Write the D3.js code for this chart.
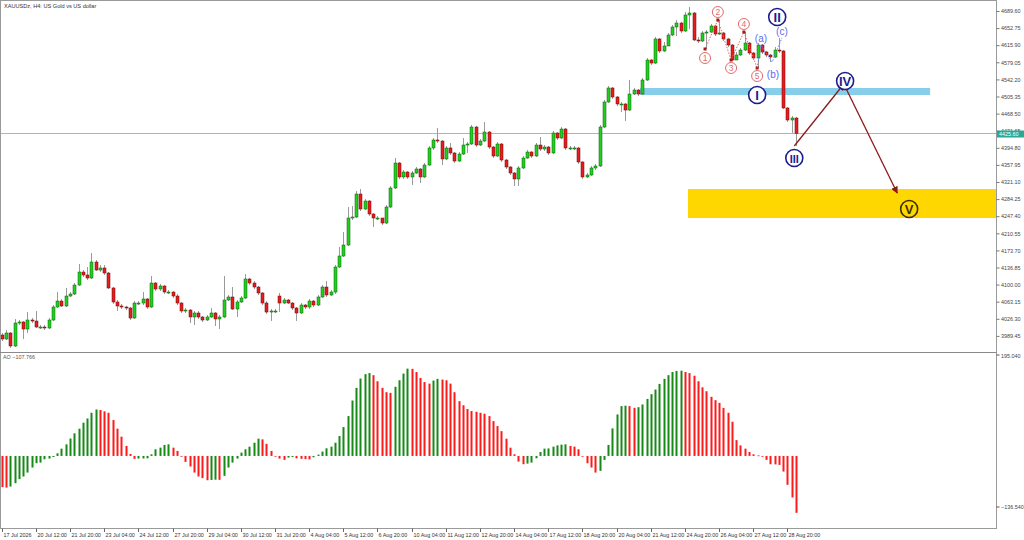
<!DOCTYPE html>
<html><head><meta charset="utf-8">
<script src="https://cdn.jsdelivr.net/npm/d3@7/dist/d3.min.js"></script>
<style>
body{margin:0;background:#fff}
svg{display:block}
text{font-family:"Liberation Sans",Arial,sans-serif}
</style>
</head><body>
<svg id="chart" width="1024" height="540"></svg>
<script>
// ---------------- DATA ----------------
const chartTitle = "XAUUSDz, H4:  US Gold vs US dollar";
const aoTitle = "AO";

const opens = [3991.4,3982.8,3995.7,3967.7,4017.2,4019.4,4004.3,4023.7,4021.5,4008.6,
4008.6,4006.5,4023.7,4051.7,4064.6,4053.9,4075.4,4079.7,4099.1,4127.1,
4120.7,4114.2,4148.7,4131.4,4135.8,4125.0,4092.7,4062.5,4053.9,4051.7,
4049.6,4028.0,4060.3,4060.3,4069.0,4051.7,4103.4,4090.5,4097.0,4084.0,
4084.0,4075.4,4060.3,4043.1,4045.2,4030.2,4038.8,4030.2,4023.7,4030.2,
4038.8,4025.9,4030.2,4066.8,4073.3,4047.4,4062.5,4071.1,4112.1,4103.4,
4094.8,4081.9,4060.3,4040.9,4043.1,4075.4,4060.3,4066.8,4060.3,4049.6,
4038.8,4056.0,4051.7,4064.6,4056.0,4073.3,4094.8,4077.6,4084.0,4137.9,
4161.6,4185.3,4243.5,4245.7,4295.2,4262.9,4280.1,4252.1,4243.5,4243.5,
4232.7,4267.2,4308.2,4362.0,4331.9,4342.6,4331.9,4340.5,4349.1,4331.9,
4357.7,4394.4,4411.6,4409.4,4370.7,4394.4,4383.6,4366.3,4381.4,4400.8,
4403.0,4439.6,4400.8,4409.4,4428.8,4396.5,4377.1,4403.0,4368.5,4353.4,
4340.5,4327.6,4351.3,4372.8,4385.7,4377.1,4400.8,4392.2,4396.5,4383.6,
4426.7,4415.9,4435.3,4394.4,4394.4,4394.4,4364.2,4331.9,4336.2,4351.3,
4355.6,4439.6,4493.5,4523.7,4504.3,4489.2,4489.2,4476.2,4510.7,4519.3,
4510.7,4540.9,4584.0,4577.5,4629.3,4603.4,4614.2,4637.9,4655.1,4663.7,
4646.5,4681.0,4685.3,4627.1,4624.9,4642.2,4644.3,4657.3,4640.0,4642.2,
4629.3,4616.3,4584.0,4594.8,4605.5,4620.6,4599.1,4588.3,4616.3,4601.2,
4594.8,4590.5,4605.5,4603.4,4480.6,4454.7,4459.0];

const closes = [3982.8,3995.7,3967.7,4017.2,4019.4,4004.3,4023.7,4021.5,4008.6,4008.6,
4006.5,4023.7,4051.7,4064.6,4053.9,4075.4,4079.7,4099.1,4127.1,4120.7,
4114.2,4148.7,4131.4,4135.8,4125.0,4092.7,4062.5,4053.9,4051.7,4049.6,
4028.0,4060.3,4060.3,4069.0,4051.7,4103.4,4090.5,4097.0,4084.0,4084.0,
4075.4,4060.3,4043.1,4045.2,4030.2,4038.8,4030.2,4023.7,4030.2,4038.8,
4025.9,4030.2,4066.8,4073.3,4047.4,4062.5,4071.1,4112.1,4103.4,4094.8,
4081.9,4060.3,4040.9,4043.1,4043.1,4060.3,4066.8,4060.3,4049.6,4038.8,
4056.0,4051.7,4064.6,4056.0,4073.3,4094.8,4077.6,4084.0,4137.9,4161.6,
4185.3,4243.5,4245.7,4295.2,4262.9,4280.1,4252.1,4243.5,4243.5,4232.7,
4267.2,4308.2,4362.0,4331.9,4342.6,4331.9,4340.5,4349.1,4331.9,4357.7,
4394.4,4411.6,4409.4,4370.7,4394.4,4383.6,4366.3,4381.4,4400.8,4403.0,
4439.6,4400.8,4409.4,4428.8,4396.5,4377.1,4403.0,4368.5,4353.4,4340.5,
4327.6,4351.3,4372.8,4385.7,4377.1,4400.8,4392.2,4396.5,4383.6,4426.7,
4415.9,4435.3,4394.4,4394.4,4394.4,4364.2,4331.9,4336.2,4351.3,4355.6,
4439.6,4493.5,4523.7,4504.3,4489.2,4489.2,4476.2,4510.7,4519.3,4510.7,
4540.9,4584.0,4577.5,4629.3,4603.4,4614.2,4637.9,4655.1,4663.7,4646.5,
4681.0,4685.3,4627.1,4624.9,4642.2,4644.3,4657.3,4640.0,4642.2,4629.3,
4616.3,4584.0,4594.8,4605.5,4620.6,4599.1,4588.3,4616.3,4601.2,4594.8,
4590.5,4605.5,4603.4,4480.6,4454.7,4459.0,4425.6];

const highs = [3995.7,4002.1,3997.8,4025.9,4023.7,4021.5,4040.9,4028.0,4043.1,4012.9,
4012.9,4028.0,4056.0,4084.0,4069.0,4092.7,4084.0,4103.4,4144.4,4131.4,
4137.9,4168.1,4153.0,4142.2,4142.2,4127.1,4094.8,4066.8,4058.2,4053.9,
4051.7,4064.6,4064.6,4084.0,4071.1,4118.5,4105.6,4101.3,4099.1,4088.3,
4086.2,4079.7,4062.5,4049.6,4047.4,4043.1,4043.1,4032.3,4034.5,4049.6,
4040.9,4034.5,4118.5,4077.6,4094.8,4066.8,4075.4,4122.8,4114.2,4107.7,
4097.0,4084.0,4064.6,4047.4,4047.4,4081.9,4071.1,4069.0,4062.5,4051.7,
4060.3,4058.2,4069.0,4066.8,4077.6,4099.1,4107.7,4088.3,4142.2,4181.0,
4213.3,4267.2,4269.4,4301.7,4306.0,4284.5,4282.3,4254.3,4247.8,4243.5,
4271.5,4312.5,4372.8,4364.2,4346.9,4344.8,4344.8,4353.4,4351.3,4362.0,
4398.7,4415.9,4437.5,4411.6,4398.7,4405.1,4385.7,4385.7,4415.9,4407.3,
4443.9,4441.8,4413.8,4450.4,4431.0,4398.7,4407.3,4405.1,4370.7,4355.6,
4342.6,4355.6,4377.1,4390.0,4387.9,4405.1,4418.1,4400.8,4398.7,4431.0,
4428.8,4439.6,4437.5,4398.7,4398.7,4396.5,4366.3,4340.5,4355.6,4359.9,
4443.9,4497.8,4528.0,4525.8,4506.4,4493.5,4491.3,4540.9,4523.7,4521.5,
4545.2,4588.3,4586.2,4633.6,4631.4,4622.8,4642.2,4659.4,4670.2,4665.9,
4687.4,4698.2,4687.4,4633.6,4646.5,4648.6,4661.6,4659.4,4670.2,4644.3,
4631.4,4618.5,4601.2,4609.9,4644.3,4622.8,4601.2,4620.6,4618.5,4603.4,
4596.9,4612.0,4631.4,4605.5,4482.7,4463.3,4461.2];

const lows = [3978.4,3980.6,3963.4,3965.5,4012.9,3982.8,3995.7,4017.2,4006.5,4004.3,
4002.1,4004.3,4021.5,4049.6,4051.7,4051.7,4073.3,4077.6,4097.0,4116.4,
4109.9,4112.1,4129.3,4127.1,4120.7,4090.5,4058.2,4043.1,4047.4,4045.2,
4023.7,4025.9,4056.0,4056.0,4047.4,4049.6,4086.2,4086.2,4079.7,4079.7,
4071.1,4056.0,4038.8,4038.8,4017.2,4012.9,4025.9,4019.4,4021.5,4028.0,
4010.8,4004.3,4028.0,4064.6,4045.2,4030.2,4060.3,4069.0,4099.1,4090.5,
4077.6,4056.0,4036.6,4021.5,4038.8,4040.9,4058.2,4058.2,4045.2,4021.5,
4036.6,4047.4,4047.4,4051.7,4053.9,4071.1,4073.3,4075.4,4079.7,4135.8,
4159.5,4183.2,4239.2,4243.5,4258.6,4260.7,4247.8,4224.1,4239.2,4228.4,
4230.6,4265.1,4306.0,4327.6,4327.6,4327.6,4314.6,4338.3,4318.9,4329.7,
4355.6,4390.0,4405.1,4357.7,4368.5,4379.3,4362.0,4364.2,4379.3,4383.6,
4400.8,4396.5,4398.7,4407.3,4392.2,4372.8,4375.0,4364.2,4349.1,4336.2,
4312.5,4312.5,4349.1,4370.7,4372.8,4375.0,4387.9,4387.9,4379.3,4381.4,
4411.6,4413.8,4390.0,4390.0,4390.0,4359.9,4327.6,4329.7,4334.0,4346.9,
4353.4,4437.5,4491.3,4500.0,4484.9,4471.9,4452.5,4474.1,4508.6,4506.4,
4508.6,4538.7,4573.2,4575.4,4599.1,4601.2,4618.5,4635.7,4635.7,4642.2,
4644.3,4650.8,4624.9,4620.6,4622.8,4607.7,4642.2,4635.7,4637.9,4624.9,
4612.0,4581.8,4588.3,4592.6,4603.4,4594.8,4584.0,4566.8,4596.9,4590.5,
4579.7,4588.3,4599.1,4478.4,4450.4,4426.7,4398.7];

const aoValues = [-59,-60,-58,-51.6,-44,-39,-31.5,-22,-13.8,-12.6,
-6.3,-5,-2,5,13.8,22,33,42.8,51.6,63,
71,81.8,88,87,84.5,81.8,68,51.6,36.5,19,
3.8,-5.5,-5,-4.8,-4.5,3.1,12.6,15.7,20.8,22,
15.7,9.4,-0.5,-11.3,-20,-31.5,-39,-42,-46,-45.5,
-45,-45.3,-37.7,-22,-12.6,-5,6.3,12.6,17.6,25,
32.7,31.4,23,9.4,-1,-5,-7.5,-3.1,-1.9,-4.5,
-5.5,-6,-6.5,-2.5,2.5,8.2,14.5,17.6,25,37.7,
54.7,75.5,105,129,146.6,155,157,153,141.5,129,
120.8,119.5,131,143.4,156,165.4,165,159,147.8,140,
137,142.8,146,144.7,143.4,137,120.8,103.8,96,89,
85,83.7,81.8,80,75.5,66,56.6,47,32.7,15.7,
3.1,-10.7,-15.7,-14.5,-12.6,-4.4,7.5,13.8,14.2,17.6,
20,21.4,22,18.9,17.6,12.6,-0.5,-13.8,-22,-31.5,
-28.3,-7.5,20.8,52.2,78.6,94.4,95.2,94.4,91.2,92.4,
97.5,108,117,125.8,136.5,146,153,159,161,161.5,
159,157,152,141.5,130,122.6,112,105.7,100.6,91,
81.8,64.8,30,20,13.8,7.5,3.1,1,-1,-7.5,
-15.7,-16,-17,-29.6,-54.7,-78.6,-107.766];

const priceTicks = [4689.60,4652.75,4615.90,4579.05,4542.20,4505.35,4468.50,4431.65,4394.80,4357.95,
4321.10,4284.25,4247.40,4210.55,4173.70,4136.85,4100.00,4063.15,4026.30,3989.45];
const priceDomain = [3989.45, 4689.60];
const aoDomain = [-136.54, 195.04];

const dateLabelBars = [0,8,16,24,32,40,48,56,64,72,80,88,96,104,112,120,128,136,144,152,160,168,176,184];
const dateLabels = ["17 Jul 2026","20 Jul 12:00","21 Jul 20:00","23 Jul 04:00","24 Jul 12:00","27 Jul 20:00",
"29 Jul 04:00","30 Jul 12:00","31 Jul 20:00","4 Aug 04:00","5 Aug 12:00","6 Aug 20:00",
"10 Aug 04:00","11 Aug 12:00","12 Aug 20:00","14 Aug 04:00","17 Aug 12:00","18 Aug 20:00",
"20 Aug 04:00","21 Aug 12:00","24 Aug 20:00","26 Aug 04:00","27 Aug 12:00","28 Aug 20:00"];

// Elliott-wave annotations (bar index, price)
const resistanceBand = {from:149.5, to:217.4, top:4523.7, bottom:4508.6};
const targetZone = {from:160.7, to:234, top:4306.0, bottom:4243.5};
const mainWaveLabels = ["I","II","III","IV","V"];
const mainWaveBars = [176.9,181.6,185.6,197.5,212.5];
const mainWavePrices = [4508.6,4676.7,4372.8,4538.7,4262.9];
const minorWaveLabels = ["1","2","3","4","5"];
const minorWaveBars = [164.7,167.7,170.8,173.8,176.9];
const minorWaveLabelPrices = [4588.3,4687.4,4566.8,4661.6,4549.5];
const minorPivotPrices = [4607.7,4670.2,4584.0,4644.3,4566.8];
const corrLabels = ["(a)","(b)","(c)"];
const corrLabelBars = [177.8,180.6,182.7];
const corrLabelPrices = [4631.4,4551.7,4646.5];
const corrPivotBars = [176.9,177.8,180.4,182.7];
const corrPivotPrices = [4566.8,4616.3,4579.7,4631.4];
const forecastBars = [185.6,197.2,209.7];
const forecastPrices = [4398.7,4532.3,4297.4];

// ---------------- DRAW ----------------
const svg = d3.select("#chart");
const plotRight = 996.5;
const mainBottom = 352.5, aoTop = 353, aoBottom = 528;

const x = d3.scaleLinear().domain([0, 186]).range([1.7, 796]);
const y = d3.scaleLinear().domain(priceDomain).range([335.9, 11]);
const yAO = d3.scaleLinear().domain(aoDomain).range([aoBottom, aoTop]);

const defs = svg.append("defs");
defs.append("clipPath").attr("id","clipMain").append("rect")
  .attr("x",0).attr("y",0).attr("width",plotRight).attr("height",mainBottom);
defs.append("clipPath").attr("id","clipAO").append("rect")
  .attr("x",0).attr("y",aoTop).attr("width",plotRight).attr("height",aoBottom-aoTop);
defs.append("marker").attr("id","arrow").attr("viewBox","0 0 10 10")
  .attr("refX",9).attr("refY",5).attr("markerWidth",7).attr("markerHeight",7)
  .attr("markerUnits","userSpaceOnUse").attr("orient","auto")
  .append("path").attr("d","M0,0 L10,5 L0,10 z").attr("fill","#8b1a1a");

const main = svg.append("g").attr("clip-path","url(#clipMain)");

// zones
main.append("rect")
  .attr("x", x(targetZone.from)).attr("width", x(targetZone.to)-x(targetZone.from))
  .attr("y", y(targetZone.top)).attr("height", y(targetZone.bottom)-y(targetZone.top))
  .attr("fill","#ffd700");
main.append("rect")
  .attr("x", x(resistanceBand.from)).attr("width", x(resistanceBand.to)-x(resistanceBand.from))
  .attr("y", y(resistanceBand.top)).attr("height", y(resistanceBand.bottom)-y(resistanceBand.top))
  .attr("fill","#87ceeb");

// current price line
const lastClose = closes[closes.length-1];
main.append("line").attr("x1",0).attr("x2",plotRight)
  .attr("y1",y(lastClose)).attr("y2",y(lastClose))
  .attr("stroke","#7fcaca").attr("stroke-width",1);

// candles
const idx = d3.range(closes.length);
main.append("g").selectAll("line").data(idx).join("line")
  .attr("x1",i=>Math.round(x(i))+0.5).attr("x2",i=>Math.round(x(i))+0.5)
  .attr("y1",i=>y(highs[i])).attr("y2",i=>y(lows[i]))
  .attr("stroke","#9a9a9a").attr("stroke-width",1);
main.append("g").selectAll("rect").data(idx).join("rect")
  .attr("x",i=>Math.round(x(i))-1)
  .attr("width",3)
  .attr("y",i=>y(Math.max(opens[i],closes[i])))
  .attr("height",i=>Math.max(1, Math.abs(y(opens[i])-y(closes[i]))))
  .attr("fill",i=>closes[i]>=opens[i]?"#1fd01f":"#e81c1c")
  .attr("stroke",i=>closes[i]>=opens[i]?"#0d5e0d":"#6e0b0b")
  .attr("stroke-width",0.5);

// minor wave (red dotted)
const line = d3.line().x(d=>x(d[0])).y(d=>y(d[1]));
const minorPts = minorWaveBars.map((b,i)=>[b, minorPivotPrices[i]]);
main.append("path").attr("d",line(minorPts)).attr("fill","none")
  .attr("stroke","#e06666").attr("stroke-width",1).attr("stroke-dasharray","1.5,1.5");
main.append("g").selectAll("rect").data(minorPts).join("rect")
  .attr("x",d=>x(d[0])-1.5).attr("y",d=>y(d[1])-1.5).attr("width",3).attr("height",3)
  .attr("fill","#a01818");
const minorG = main.append("g").selectAll("g").data(minorWaveLabels).join("g")
  .attr("transform",(d,i)=>`translate(${x(minorWaveBars[i])},${y(minorWaveLabelPrices[i])})`);
minorG.append("circle").attr("r",5.5).attr("fill","#fff").attr("stroke","#e26a6a").attr("stroke-width",1);
minorG.append("text").text(d=>d).attr("text-anchor","middle").attr("dy","3.2")
  .attr("font-size",8.5).attr("fill","#e26a6a");

// correction (blue dotted)
const corrPts = corrPivotBars.map((b,i)=>[b, corrPivotPrices[i]]);
main.append("path").attr("d",line(corrPts)).attr("fill","none")
  .attr("stroke","#6d7bff").attr("stroke-width",1).attr("stroke-dasharray","1.5,1.5");
main.append("g").selectAll("text").data(corrLabels).join("text")
  .text(d=>d).attr("x",(d,i)=>x(corrLabelBars[i])).attr("y",(d,i)=>y(corrLabelPrices[i]))
  .attr("text-anchor","middle").attr("dy","3.5").attr("font-size",10).attr("fill","#5b6cf0");

// forecast arrows
for (let s=0; s<forecastBars.length-1; s++) {
  main.append("line")
    .attr("x1",x(forecastBars[s])).attr("y1",y(forecastPrices[s]))
    .attr("x2",x(forecastBars[s+1])).attr("y2",y(forecastPrices[s+1]))
    .attr("stroke","#8b1a1a").attr("stroke-width",1.3).attr("marker-end","url(#arrow)");
}

// main waves
const mainG = main.append("g").selectAll("g").data(mainWaveLabels).join("g")
  .attr("transform",(d,i)=>`translate(${x(mainWaveBars[i])},${y(mainWavePrices[i])})`);
mainG.append("circle").attr("r",8.5)
  .attr("fill",(d,i)=>i===4?"none":"#fff")
  .attr("stroke",(d,i)=>i===4?"#3a2f00":"#1c1c8e").attr("stroke-width",1.6);
mainG.append("text").text(d=>d).attr("text-anchor","middle").attr("dy","4.8")
  .attr("font-family","'Liberation Serif','DejaVu Serif',serif").attr("font-weight","bold")
  .attr("font-size",d=>d.length>2?11:13)
  .attr("fill",(d,i)=>i===4?"#3a2f00":"#1c1c8e");

// AO
const ao = svg.append("g").attr("clip-path","url(#clipAO)");
ao.append("g").selectAll("rect").data(idx).join("rect")
  .attr("x",i=>Math.round(x(i))-0.5)
  .attr("width",2)
  .attr("y",i=>Math.min(yAO(0), yAO(aoValues[i])))
  .attr("height",i=>Math.max(0.8, Math.abs(yAO(aoValues[i])-yAO(0))))
  .attr("fill",i=> (i>0 && aoValues[i]>=aoValues[i-1]) ? "#168a16" : "#ff1a1a");

// frame & separators
svg.append("rect").attr("x",0.5).attr("y",0.5).attr("width",plotRight-0.5).attr("height",aoBottom)
  .attr("fill","none").attr("stroke","#9a9a9a");
svg.append("line").attr("x1",0).attr("x2",plotRight).attr("y1",mainBottom).attr("y2",mainBottom)
  .attr("stroke","#8a8a8a").attr("stroke-width",1);

// right price axis
const axisR = d3.axisRight(y).tickValues(priceTicks).tickSize(3).tickPadding(1.5)
  .tickFormat(d3.format(".2f"));
const gR = svg.append("g").attr("transform",`translate(${plotRight},0)`).call(axisR);
gR.select(".domain").remove();
gR.selectAll("line").attr("stroke","#777");
gR.selectAll("text").attr("font-size",5.4).attr("fill","#444");

// last price tag
const tagY = y(lastClose);
svg.append("rect").attr("x",plotRight+0.5).attr("y",tagY-3).attr("width",27).attr("height",7)
  .attr("fill","#27a899");
svg.append("text").attr("x",plotRight+2.5).attr("y",tagY+2.6)
  .text(d3.format(".2f")(lastClose)).attr("font-size",5.4).attr("fill","#fff");

// AO axis labels
svg.append("line").attr("x1",plotRight).attr("x2",plotRight+3).attr("y1",aoTop+2).attr("y2",aoTop+2).attr("stroke","#555");
svg.append("text").attr("x",plotRight+4.5).attr("y",aoTop+4.5)
  .text(d3.format(".3f")(aoDomain[1])).attr("font-size",5.4).attr("fill","#444");
svg.append("line").attr("x1",plotRight).attr("x2",plotRight+3).attr("y1",aoBottom-21).attr("y2",aoBottom-21).attr("stroke","#555");
svg.append("text").attr("x",plotRight+4.5).attr("y",aoBottom-19)
  .text(d3.format(".3f")(aoDomain[0])).attr("font-size",5.4).attr("fill","#444");

// bottom time axis
const gB = svg.append("g");
gB.selectAll("line").data(dateLabelBars).join("line")
  .attr("x1",b=>Math.round(x(b))+0.5).attr("x2",b=>Math.round(x(b))+0.5)
  .attr("y1",aoBottom+0.5).attr("y2",aoBottom+4).attr("stroke","#666");
gB.selectAll("text").data(dateLabels).join("text")
  .attr("x",(d,i)=>Math.round(x(dateLabelBars[i]))+1.5).attr("y",aoBottom+8.5)
  .text(d=>d).attr("font-size",5.4).attr("fill","#333");

// titles
svg.append("text").attr("x",4).attr("y",7.5).text(chartTitle).attr("font-size",5.6).attr("fill","#333");
svg.append("text").attr("x",3).attr("y",aoTop+6).text(aoTitle+" "+d3.format(".3f")(aoValues[aoValues.length-1]))
  .attr("font-size",5.4).attr("fill","#555");
</script>
</body></html>
